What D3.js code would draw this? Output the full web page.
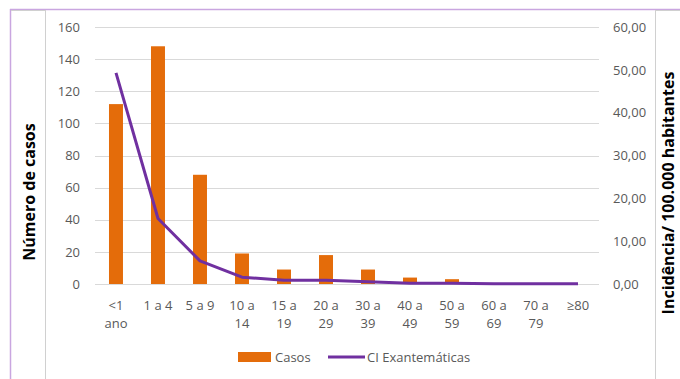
<!DOCTYPE html>
<html><head><meta charset="utf-8">
<script src="https://cdn.jsdelivr.net/npm/d3@7"></script>
<style>body{margin:0;background:#fff;}svg{display:block;font-family:"Open Sans",sans-serif;}</style>
</head><body>
<svg id="c" width="680" height="379"></svg>
<script>
const categories = [["<1","ano"],["1 a 4"],["5 a 9"],["10 a","14"],["15 a","19"],["20 a","29"],["30 a","39"],["40 a","49"],["50 a","59"],["60 a","69"],["70 a","79"],["≥80"]];
const casos = [112,148,68,19,9,18,9,4,3,0,0,0];
const incidencia = [49.3,15.3,5.4,1.6,0.9,0.9,0.5,0.2,0.15,0.05,0.05,0.05];
const leftTicks = [0,20,40,60,80,100,120,140,160];
const rightTicks = [0,10,20,30,40,50,60];

const svg = d3.select("#c");
const L = 95, R = 599, T = 27, B = 284;

// frame
svg.append("line").attr("x1",10).attr("x2",680).attr("y1",9.5).attr("y2",9.5).attr("stroke","#c9a6e0").attr("stroke-width",1.5);
svg.append("line").attr("x1",10.5).attr("x2",10.5).attr("y1",9).attr("y2",379).attr("stroke","#c9a6e0").attr("stroke-width",1.5);
svg.append("line").attr("x1",45.5).attr("x2",45.5).attr("y1",10).attr("y2",379).attr("stroke","#d0d0d0");
svg.append("line").attr("x1",11).attr("x2",45).attr("y1",10.5).attr("y2",10.5).attr("stroke","#d0d0d0");
svg.append("line").attr("x1",655.5).attr("x2",655.5).attr("y1",10).attr("y2",379).attr("stroke","#d0d0d0");
svg.append("line").attr("x1",655).attr("x2",680).attr("y1",10.5).attr("y2",10.5).attr("stroke","#d0d0d0");

const x = d3.scaleBand().domain(d3.range(categories.length)).range([L,R]).paddingInner(0.667).paddingOuter(0.333);
const xc = d3.scaleBand().domain(d3.range(categories.length)).range([L,R]);
const y = d3.scaleLinear().domain([0,160]).range([B,T]);
const y2 = d3.scaleLinear().domain([0,60]).range([B,T]);

// grid
svg.append("g").selectAll("line").data(leftTicks).join("line")
  .attr("x1",L).attr("x2",R).attr("y1",d=>Math.round(y(d))+0.5).attr("y2",d=>Math.round(y(d))+0.5)
  .attr("stroke","#d9d9d9").attr("stroke-width",1);

// left axis
const ga = svg.append("g").attr("transform",`translate(${L-15},0)`)
  .call(d3.axisLeft(y).tickValues(leftTicks).tickSize(0).tickPadding(0));
ga.select(".domain").remove();
ga.selectAll("text").attr("fill","#595959").style("font-size","13px").style("font-family","Open Sans");

// right axis
const gb = svg.append("g").attr("transform",`translate(${R+14},0)`)
  .call(d3.axisRight(y2).tickValues(rightTicks).tickSize(0).tickPadding(0).tickFormat(d=>d3.format(".2f")(d).replace(".",",")));
gb.select(".domain").remove();
gb.selectAll("text").attr("fill","#595959").style("font-size","13px").style("font-family","Open Sans");

// bars
svg.append("g").selectAll("rect").data(casos).join("rect")
  .attr("x",(d,i)=>x(i)).attr("width",x.bandwidth())
  .attr("y",d=>y(d)).attr("height",d=>B-y(d)).attr("fill","#e46c0a");

// line
const line = d3.line().x((d,i)=>xc(i)+xc.bandwidth()/2).y(d=>y2(d));
svg.append("path").datum(incidencia).attr("d",line).attr("fill","none")
  .attr("stroke","#7030a0").attr("stroke-width",3).attr("stroke-linejoin","round");

// x labels
const xl = svg.append("g");
categories.forEach((lines,i)=>{
  const t = xl.append("text").attr("x",xc(i)+xc.bandwidth()/2).attr("y",310)
    .attr("text-anchor","middle").attr("fill","#595959").style("font-size","13px");
  lines.forEach((s,j)=>t.append("tspan").attr("x",xc(i)+xc.bandwidth()/2).attr("dy",j?18:0).text(s));
});

// axis titles
svg.append("text").attr("transform","translate(35,192) rotate(-90)").attr("text-anchor","middle")
  .style("font-size","16px").style("font-weight","bold").attr("fill","#000").text("Número de casos");
svg.append("text").attr("transform","translate(674,193) rotate(-90)").attr("text-anchor","middle")
  .style("font-size","16px").style("font-weight","bold").attr("fill","#000").text("Incidência/ 100.000 habitantes");

// legend
svg.append("rect").attr("x",238).attr("y",352).attr("width",33).attr("height",10).attr("fill","#e46c0a");
svg.append("text").attr("x",275).attr("y",362).attr("fill","#595959").style("font-size","13px").text("Casos");
svg.append("line").attr("x1",328).attr("x2",365).attr("y1",357).attr("y2",357).attr("stroke","#7030a0").attr("stroke-width",3);
svg.append("text").attr("x",367).attr("y",362).attr("fill","#595959").style("font-size","13px").text("CI Exantemáticas");
</script>
</body></html>
